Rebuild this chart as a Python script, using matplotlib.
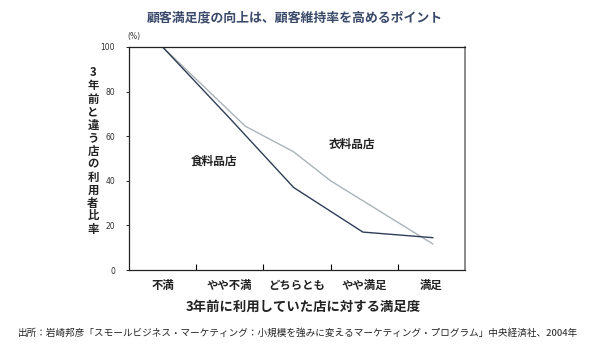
import matplotlib
matplotlib.use("Agg")
import matplotlib.pyplot as plt

plt.rcParams['font.family'] = ['Noto Sans CJK JP', 'DejaVu Sans']

categories = ["不満", "やや不満", "どちらとも", "やや満足", "満足"]
food_x = [0, 1, 1.95, 2.98, 4.02]
food_y = [100, 68, 37, 17, 14.5]
cloth_x = [0, 1.23, 1.95, 2.5, 4.02]
cloth_y = [100, 64.5, 53, 40, 11.7]
yticks = [0, 20, 40, 60, 80, 100]

title = "顧客満足度の向上は、顧客維持率を高めるポイント"
ylabel = "3年前と違う店の利用者比率"
xlabel = "3年前に利用していた店に対する満足度"
source = "出所：岩崎邦彦「スモールビジネス・マーケティング：小規模を強みに変えるマーケティング・プログラム」中央経済社、2004年"

fig = plt.figure(figsize=(5.89, 3.53), dpi=100)
ax = fig.add_axes([129/589, 1-270/353, (465-129)/589, (270-47)/353])

ax.plot(cloth_x, cloth_y, color="#aab3b8", lw=1.0)
ax.plot(food_x, food_y, color="#2f3d57", lw=1.0)

ax.set_xlim(-0.5, 4.5)
ax.set_ylim(0, 100)
ax.set_yticks(yticks)
ax.set_yticklabels([str(v) for v in yticks], fontsize=5.5, color="#333333",
                   family="DejaVu Sans")
ax.tick_params(axis='y', length=2, width=0.6, direction='out', pad=8)
ax.set_xticks([0.5, 1.5, 2.5, 3.5])
ax.set_xticklabels([])
ax.tick_params(axis='x', length=4, width=0.8, direction='in')
for i, c in enumerate(categories):
    ax.text(i, -4, c, ha='center', va='top', fontsize=8.2, fontweight='bold',
            color="#222222", transform=ax.transData, clip_on=False)

for s in ax.spines.values():
    s.set_color("#222222")
    s.set_linewidth(0.9)
ax.spines['right'].set_color("#777777")
ax.spines['right'].set_linewidth(1.2)

ax.text(0.77, 49, "食料品店", ha='center', va='center', fontsize=8.4,
        fontweight='bold', color="#222222")
ax.text(2.82, 56.5, "衣料品店", ha='center', va='center', fontsize=8.4,
        fontweight='bold', color="#222222")

fig.text(295/589, 1-17/353, title, ha='center', va='center', fontsize=9.3,
         fontweight='bold', color="#3b4a6b")
fig.text(134/589, 1-37/353, "(%)", ha='center', va='center', fontsize=5.5,
         color="#333333", family="DejaVu Sans")
fig.text(93/589, 1-151/353, "\n".join(ylabel), ha='center', va='center',
         fontsize=8.2, fontweight='bold', color="#222222", linespacing=1.0)
fig.text(303/589, 1-307/353, xlabel, ha='center', va='center', fontsize=9.6,
         fontweight='bold', color="#222222")
fig.text(18/589, 1-333/353, source, ha='left', va='center', fontsize=6.9,
         color="#222222")

fig.savefig("out.png", dpi=100, facecolor="white")
